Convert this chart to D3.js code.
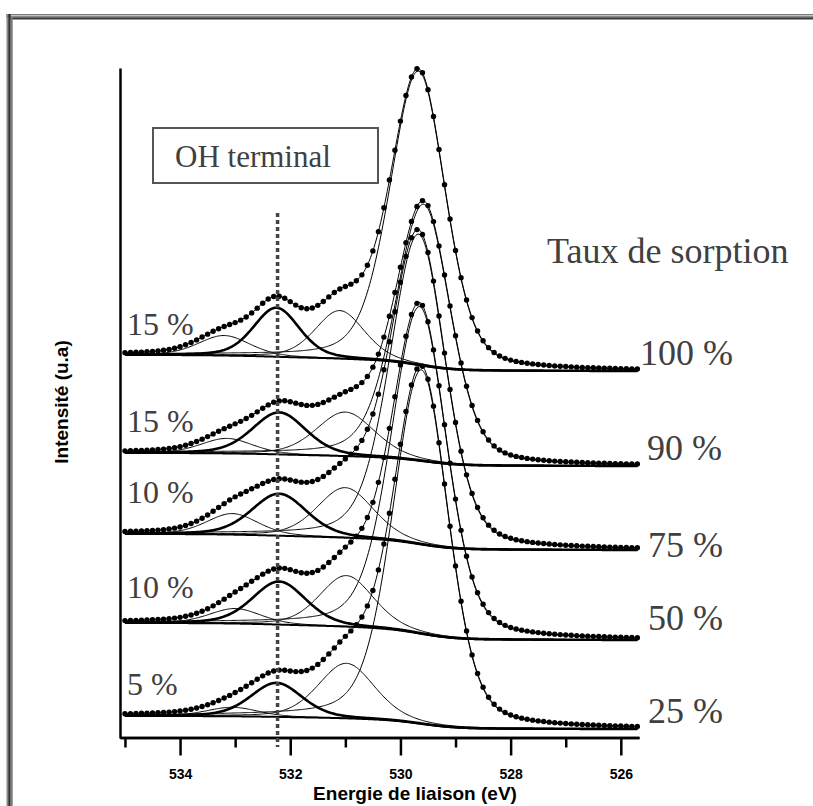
<!DOCTYPE html>
<html><head><meta charset="utf-8">
<script src="https://cdn.jsdelivr.net/npm/d3@7"></script>
<style>body{margin:0;background:#fff} svg{display:block}</style>
</head><body>
<svg id="chart" width="813" height="806"></svg>
<script>
// ---- data ----
const rates = ["100 %", "90 %", "75 %", "50 %", "25 %"];          // Taux de sorption
const ohShares = ["15 %", "15 %", "10 %", "10 %", "5 %"];          // part of OH terminal
const bgHighBE = [383, 285, 204, 115, 22];                         // background level at 535 eV (a.u.)
const bgLowBE  = [367, 272, 188, 98, 9];                           // background level at 525.7 eV (a.u.)
const latticeEV  = [529.67, 529.58, 529.67, 529.65, 529.62];       // O lattice component
const latticeAmp = [294, 257, 310, 327, 354];
const bridgeEV   = [531.10, 531.00, 531.00, 530.98, 530.98];       // OH bridging component
const bridgeAmp  = [48, 44, 50, 51, 55];
const bridgeFWHM = [1.05, 1.24, 1.2, 1.15, 1.2];
const terminalEV = [532.25, 532.20, 532.20, 532.20, 532.25];       // OH terminal component
const terminalAmp= [49, 42, 42, 43, 34];
const terminalFWHM = [0.98, 1.15, 1.18, 1.15, 1.1];
const waterEV    = [533.20, 533.15, 533.05, 533.00, 533.05];       // adsorbed water component
const waterAmp   = [20, 15, 21, 15, 9];
const waterFWHM  = [1.1, 1.1, 1.1, 1.1, 1.1];
const latticeFWHM = [1.22, 1.15];                                  // high-BE side, low-BE side (eV)
const lorentzFraction = 0.3;
const scanStart = 535.0, scanEnd = 525.7, scanStep = 0.1;         // acquisition grid (eV)
const majorTicks = [534, 532, 530, 528, 526];
const minorTicks = [535, 533, 531, 529, 527];
const ohTerminalEV = 532.23;
const xTitle = "Energie de liaison (eV)";
const yTitle = "Intensité (u.a)";
const boxLabel = "OH terminal";
const legendTitle = "Taux de sorption";

// ---- layout ----
const svg = d3.select("#chart");
const x = d3.scaleLinear().domain([535.09, 525.67]).range([120, 639]);
const y = d3.scaleLinear().domain([0, 670]).range([738, 68]);

// frame
const fr = svg.append("g");
fr.append("rect").attr("x",6).attr("y",14).attr("width",807).attr("height",1).attr("fill","#7a7a7a");
fr.append("rect").attr("x",6).attr("y",15).attr("width",807).attr("height",1).attr("fill","#c4c4c4");
fr.append("rect").attr("x",6).attr("y",16).attr("width",807).attr("height",1.3).attr("fill","#8a8a8a");
fr.append("rect").attr("x",10).attr("y",17.3).attr("width",803).attr("height",2.2).attr("fill","#3a3a3a");
fr.append("rect").attr("x",6.5).attr("y",14).attr("width",1.7).attr("height",792).attr("fill","#8a8a8a");
fr.append("rect").attr("x",8.2).attr("y",14).attr("width",2.5).attr("height",792).attr("fill","#333");
fr.append("rect").attr("x",10.7).attr("y",17).attr("width",2).attr("height",789).attr("fill","#7a7a7a");

// axes
const gx = svg.append("g").attr("transform","translate(0,737.5)");
gx.call(d3.axisBottom(x).tickValues(minorTicks).tickSize(10).tickSizeOuter(0).tickFormat(""));
const gx2 = svg.append("g").attr("transform","translate(0,737.5)");
gx2.call(d3.axisBottom(x).tickValues(majorTicks).tickSize(18).tickSizeOuter(0).tickPadding(13.5).tickFormat(d3.format("d")));
[gx, gx2].forEach(g => {
  g.select(".domain").attr("stroke","#000").attr("stroke-width",2.5);
  g.selectAll(".tick line").attr("stroke","#000").attr("stroke-width",2.5);
});
gx2.selectAll(".tick text").attr("font-family","'Liberation Sans', Arial, sans-serif")
  .attr("font-weight","bold").attr("font-size",14).attr("fill","#000");
const gy = svg.append("g").attr("transform","translate(120,0)");
gy.call(d3.axisLeft(y).tickValues([]).tickSizeOuter(0));
gy.select(".domain").attr("stroke","#000").attr("stroke-width",2.5);

svg.append("text").attr("x",415).attr("y",800).attr("text-anchor","middle")
  .attr("font-family","'Liberation Sans', Arial, sans-serif").attr("font-weight","bold")
  .attr("font-size",19).text(xTitle);
svg.append("text").attr("transform","translate(68,402) rotate(-90)").attr("text-anchor","middle")
  .attr("font-family","'Liberation Sans', Arial, sans-serif").attr("font-weight","bold")
  .attr("font-size",19).text(yTitle);

// ---- spectra ----
const ln2x4 = 4 * Math.LN2;
function gl(e, c, a, wHigh, wLow) {
  const w = e >= c ? wHigh : wLow;
  const t = (e - c) / w;
  return a * ((1 - lorentzFraction) * Math.exp(-ln2x4 * t * t) + lorentzFraction / (1 + 4 * t * t));
}
const fine = d3.range(scanEnd, scanStart + 1e-9, 0.02);        // low BE -> high BE
const scan = d3.range(0, Math.round((scanStart - scanEnd) / scanStep) + 1).map(i => scanEnd + i * scanStep);

const line = d3.line().x(d => x(d[0])).y(d => y(d[1]));
const plot = svg.append("g");

rates.forEach((r, s) => {
  const comps = [
    {c: latticeEV[s],  a: latticeAmp[s],  wh: latticeFWHM[0], wl: latticeFWHM[1], sw: 1},
    {c: bridgeEV[s],   a: bridgeAmp[s],   wh: bridgeFWHM[s],   wl: bridgeFWHM[s],   sw: 1},
    {c: terminalEV[s], a: terminalAmp[s], wh: terminalFWHM[s], wl: terminalFWHM[s], sw: 2.6},
    {c: waterEV[s],    a: waterAmp[s],    wh: waterFWHM[s],    wl: waterFWHM[s],    sw: 1}
  ];
  const sumAt = e => d3.sum(comps, k => gl(e, k.c, k.a, k.wh, k.wl));
  // Shirley-type background: cumulative peak area from the low-BE side
  const cum = [];
  let acc = 0;
  fine.forEach(e => { acc += sumAt(e); cum.push(acc); });
  const total = acc;
  const bgAt = e => {
    const i = Math.max(0, Math.min(fine.length - 1, Math.round((e - scanEnd) / 0.02)));
    return bgLowBE[s] + (bgHighBE[s] - bgLowBE[s]) * cum[i] / total;
  };
  const g = plot.append("g");
  g.append("path").attr("d", line(fine.map(e => [e, bgAt(e)])))
    .attr("fill","none").attr("stroke","#000").attr("stroke-width",2);
  comps.forEach(k => {
    g.append("path").attr("d", line(fine.map(e => [e, bgAt(e) + gl(e, k.c, k.a, k.wh, k.wl)])))
      .attr("fill","none").attr("stroke","#000").attr("stroke-width",k.sw);
  });
  g.append("path").attr("d", line(fine.map(e => [e, bgAt(e) + sumAt(e)])))
    .attr("fill","none").attr("stroke","#000").attr("stroke-width",1);
  g.selectAll("circle").data(scan).join("circle")
    .attr("cx", e => x(e)).attr("cy", e => y(bgAt(e) + sumAt(e))).attr("r", 2.7).attr("fill","#000");
});

// OH terminal marker
svg.append("line").attr("x1",x(ohTerminalEV)).attr("x2",x(ohTerminalEV)).attr("y1",213).attr("y2",747)
  .attr("stroke","#444").attr("stroke-width",3.5).attr("stroke-dasharray","4,3");

// labels
const serif = "'Liberation Serif', 'Times New Roman', serif";
svg.append("rect").attr("x",153).attr("y",128).attr("width",225).attr("height",55)
  .attr("fill","#fff").attr("stroke","#555").attr("stroke-width",2);
svg.append("text").attr("x",175).attr("y",167).attr("font-family",serif).attr("font-size",31)
  .attr("fill","#404040").text(boxLabel);
svg.append("text").attr("x",547).attr("y",263).attr("font-family",serif).attr("font-size",36)
  .attr("fill","#404040").text(legendTitle);
const rightLabelPos = [[640,365],[647,460],[648,557],[648,630],[648,723]];
const leftLabelBase = [335,432,503,598,695];
rates.forEach((r, s) => {
  svg.append("text").attr("x",rightLabelPos[s][0]).attr("y",rightLabelPos[s][1]).attr("font-family",serif)
    .attr("font-size",36).attr("fill","#404040").text(r);
  svg.append("text").attr("x",127).attr("y",leftLabelBase[s]).attr("font-family",serif)
    .attr("font-size",32).attr("fill","#404040").text(ohShares[s]);
});
</script>
</body></html>
